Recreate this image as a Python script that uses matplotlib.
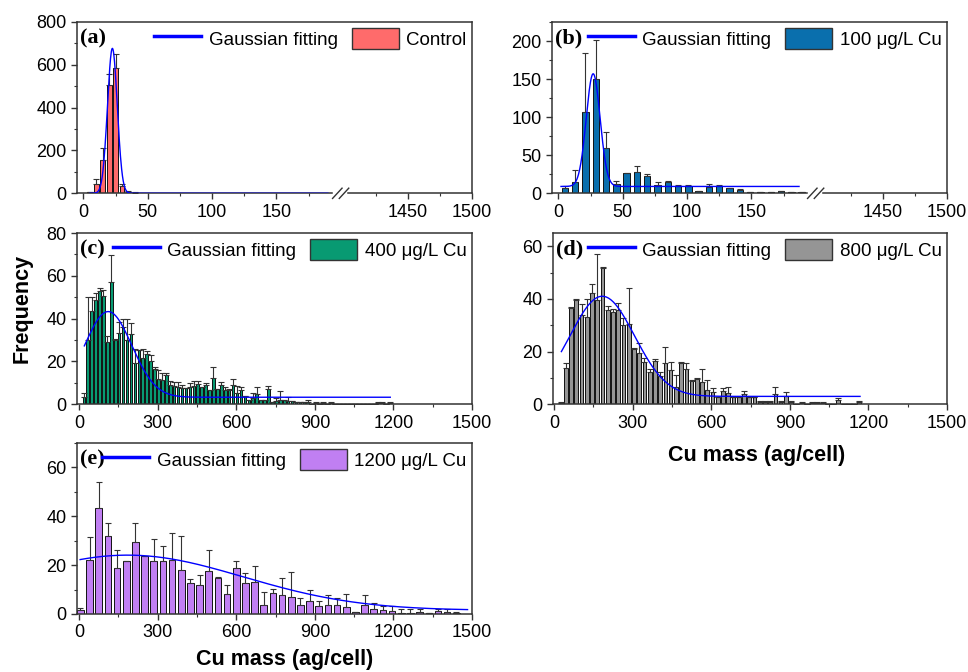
import numpy as np
import matplotlib
matplotlib.use("Agg")
import matplotlib.pyplot as plt
from matplotlib.patches import Patch
from matplotlib.lines import Line2D
from matplotlib.ticker import FixedLocator, MultipleLocator

plt.rcParams['font.family'] = ['Liberation Sans', 'DejaVu Sans']

# ---- values ----
# bar counts, upper error (SD) and Gaussian fit (y0, A, xc, w) per panel

# (a) Control: bins of 5 ag starting at 5
a_start, a_bin = 5, 5
a_counts = [4, 42, 156, 506, 584, 36, 8, 3]
a_err = [2, 23, 57, 50, 65, 8, 2, 1]
a_fit = (0, 677, 22.5, 3.8)
a_fit_range = (5, 190)

# (b) 100 ug/L: bins of 8 ag starting at 5
b_start, b_bin = 5, 8
b_counts = [7, 15, 107, 150, 59, 12.5, 27, 28.5, 23, 11, 15, 10, 10, 3.5,
            8.5, 10, 7, 4, 1.5, 1.5, 2, 3, 1.5, 1.5]
b_err = [3, 15, 77, 51, 21, 3, 0, 8, 2.5, 4, 1.3, 1, 1, 0, 3.5, 1, 0, 1,
         0, 0, 0, 0.5, 0, 0]
b_fit = (9, 148, 27, 5.4)
b_fit_range = (2, 187)

# (c) 400 ug/L: bins of 15 ag starting at 18
c_start, c_bin = 18, 15
c_counts = [3.5, 30, 43.5, 48.5, 53, 50.5, 29, 57, 30, 33.5,
            36, 30, 33, 19.5, 25.5, 21.5, 23.5, 20, 16.5, 12,
            11.5, 13.5, 9, 8.5, 8, 7.5, 7.5, 8, 8.5, 9.5,
            8, 9, 6.5, 12.5, 7, 9, 6.5, 6.5, 9, 5.5,
            6.5, 4, 2, 3, 5, 2, 2, 7, 1, 1.5,
            2, 2, 1.5, 1.5, 1, 1, 1, 1, 0, 0.5,
            0, 0.5, 0, 0.5, 0, 0, 0, 0, 0, 0,
            0, 0, 0, 0, 0, 0.5, 0.5, 0, 0.5]
c_err = [2, 20, 6.5, 3.5, 1.5, 3, 3, 12.5, 0.5, 5,
         4, 10, 5, 6.5, 0, 4.5, 1.5, 3, 1, 4,
         3, 1, 2, 2, 2.5, 1.5, 0, 2, 2.5, 1.5,
         0, 1, 0, 5, 0, 1.5, 1.5, 0.5, 3, 3,
         1.5, 0, 0, 2.5, 3, 0, 0, 1.5, 0, 1.5,
         4, 0, 2, 0, 0, 0, 0, 1, 0, 0.5,
         0, 0.5, 0, 0.5, 0, 0, 0, 0, 0, 0,
         0, 0, 0, 0, 0, 0.5, 0.5, 0, 0.5]
c_fit = (3.3, 40, 111, 90)
c_fit_range = (20, 1188)

# (d) 800 ug/L: bins of 20 ag starting at 25
d_start, d_bin = 25, 20
d_counts = [0.6, 13.6, 36.5, 39.5, 34, 33, 42.4, 39.5, 51.9, 35.9,
            34.9, 35.9, 30, 30.3, 20.8, 19.3, 16.2, 12.4, 16.4, 10.9,
            15.5, 12.9, 6.7, 15.8, 13.4, 9, 9.6, 8.6, 5.4, 4.8,
            2.9, 5.2, 4.2, 2.9, 2.9, 3.8, 2.9, 2.8, 0.8, 0.8,
            0.8, 4, 0.8, 3.3, 0.8, 0, 0.5, 0, 0.5, 0.5,
            0.5, 0, 0, 1.5, 0, 0, 0, 0.8]
d_err = [0.4, 1.9, 0.5, 0.5, 4.1, 6.9, 3.3, 17.5, 0.3, 1.5,
         1.1, 2.6, 2.6, 13.7, 0.4, 3.8, 1.2, 1, 0.8, 1.5,
         6.4, 3, 4.4, 0.4, 2.1, 0.2, 0.5, 4.8, 3.8, 1.5,
         0, 0.9, 2.5, 0, 0, 1.4, 0, 0, 0.3, 0.3,
         0.3, 2.7, 0.3, 1.2, 0.3, 0, 0.3, 0, 0.3, 0.3,
         0.3, 0, 0, 1, 0, 0, 0, 0.3]
d_fit = (3, 38, 184, 123)
d_fit_range = (28, 1168)

# (e) 1200 ug/L: bins of 35 ag starting at 5
e_start, e_bin = 5, 35
e_counts = [1.6, 22.2, 43.5, 31.8, 18.8, 21.7, 29.3, 23.6, 21.7, 21.9,
            22.2, 18.1, 12.6, 11.7, 17.7, 14.7, 8.2, 18.8, 12.6, 13.1,
            3.7, 8.5, 7.7, 7.1, 3.7, 5.5, 3.3, 3.6, 3.6, 3.0,
            0.9, 3.6, 1.9, 1.6, 1.4, 0.6, 0.6, 0.9, 0.6, 1.2,
            0.8, 0.6]
e_err = [0.7, 9.2, 10.5, 5.5, 7.2, 0, 8, 0, 8.8, 6.1,
         10.8, 13.9, 1.9, 4.3, 8.7, 0.3, 3.8, 2.7, 4.1, 6.5,
         5.5, 1.7, 7, 9.9, 2.7, 4.5, 2, 4.1, 2.8, 5.2,
         0, 4.1, 2.5, 1.8, 2, 1.4, 1.4, 1.1, 0, 0.8,
         1.2, 0.3]
e_fit = (1.5, 22.6, 185, 442)
e_fit_range = (4, 1483)

labels = ['Control', '100 \u03bcg/L Cu', '400 \u03bcg/L Cu',
          '800 \u03bcg/L Cu', '1200 \u03bcg/L Cu']
colors = ['#FF6B6B', '#0A6FAD', '#089A72', '#959595', '#C07FF2']

SPINE = '#333333'
FIT = '#0000FF'


def gauss(x, y0, A, xc, w):
    return y0 + A * np.exp(-(x - xc) ** 2 / (2 * w ** 2))


# broken x axis for (a) and (b): 0..200 | 1400..1500
def fwd(x):
    x = np.asarray(x, dtype=float)
    return np.where(x <= 200, x,
                    np.where(x >= 1400, x - 1198, 200 + (x - 200) * 2 / 1200))


def inv(y):
    y = np.asarray(y, dtype=float)
    return np.where(y <= 200, y,
                    np.where(y >= 202, y + 1198, 200 + (y - 200) * 600))


def panel(ax, start, width, counts, err, barw, color, label, fit, fit_range,
          tag, ylim, ymajor, yminor):
    x = start + width * np.arange(len(counts))
    ax.bar(x, counts, width=barw, color=color, edgecolor='#111111',
           linewidth=0.7, zorder=2)
    ax.errorbar(x, counts, yerr=[np.zeros(len(err)), err], fmt='none',
                ecolor='#333333', elinewidth=0.8, capsize=2, capthick=0.8,
                zorder=3)
    xx = np.linspace(fit_range[0], fit_range[1], 600)
    ax.plot(xx, gauss(xx, *fit), color=FIT, lw=1, zorder=4)

    ax.set_ylim(*ylim)
    ax.yaxis.set_major_locator(MultipleLocator(ymajor))
    ax.yaxis.set_minor_locator(MultipleLocator(yminor))
    for s in ax.spines.values():
        s.set_color(SPINE)
        s.set_linewidth(1.1)
    ax.tick_params(which='both', direction='out', colors=SPINE,
                   labelcolor='black', labelsize=13, top=False, right=False)
    ax.tick_params(which='major', length=4, width=1)
    ax.tick_params(which='minor', length=2.5, width=0.8)

    handles = [Line2D([], [], color=FIT, lw=2.5),
               Patch(facecolor=color, edgecolor=SPINE, linewidth=1)]
    ax.legend(handles, ['Gaussian fitting', label], loc='upper right',
              ncol=2, frameon=False, fontsize=13.5, handlelength=2.5,
              handleheight=1.4, handletextpad=0.4, columnspacing=0.75,
              borderaxespad=0.2, borderpad=0.1)
    ax.text(0.008, 0.965, tag, transform=ax.transAxes, ha='left', va='top',
            fontsize=16, fontweight='bold', family='Liberation Serif')


def broken_axis(ax):
    ax.set_xscale('function', functions=(fwd, inv))
    ax.set_xlim(-5, 1500)
    ax.xaxis.set_major_locator(FixedLocator([0, 50, 100, 150, 1450, 1500]))
    ax.xaxis.set_minor_locator(FixedLocator([25, 75, 125, 175, 1425, 1475]))
    ax.spines['bottom'].set_bounds(-5, 193)
    tr = ax.get_xaxis_transform()
    ax.plot([1404, 1500], [0, 0], transform=tr, color=SPINE, lw=1.1,
            clip_on=False, zorder=5)
    for xa in (0.659, 0.676):
        ax.plot([xa - 0.012, xa + 0.012], [-0.03, 0.03],
                transform=ax.transAxes, color=SPINE, lw=1, clip_on=False)


def full_axis(ax, xmin):
    ax.set_xlim(xmin, 1500)
    ax.xaxis.set_major_locator(MultipleLocator(300))
    ax.xaxis.set_minor_locator(MultipleLocator(150))


fig = plt.figure(figsize=(9.68, 6.72), dpi=100)
W, H = 968, 672


def add_axes(left, top, right, bottom):
    return fig.add_axes([left / W, 1 - bottom / H, (right - left) / W,
                         (bottom - top) / H])


ax_a = add_axes(77, 22, 472, 193.3)
ax_b = add_axes(552, 22, 947, 193.3)
ax_c = add_axes(77, 233, 472, 404.3)
ax_d = add_axes(553, 233, 947, 404.3)
ax_e = add_axes(77, 443, 472, 614)

panel(ax_a, a_start, a_bin, a_counts, a_err, 3.8, colors[0], labels[0],
      a_fit, a_fit_range, '(a)', (0, 800), 200, 100)
broken_axis(ax_a)

panel(ax_b, b_start, b_bin, b_counts, b_err, 5, colors[1], labels[1],
      b_fit, b_fit_range, '(b)', (0, 225), 50, 25)
broken_axis(ax_b)

panel(ax_c, c_start, c_bin, c_counts, c_err, 10, colors[2], labels[2],
      c_fit, c_fit_range, '(c)', (0, 80), 20, 10)
full_axis(ax_c, -8)

panel(ax_d, d_start, d_bin, d_counts, d_err, 14, colors[3], labels[3],
      d_fit, d_fit_range, '(d)', (0, 65), 20, 10)
full_axis(ax_d, -4)

panel(ax_e, e_start, e_bin, e_counts, e_err, 25, colors[4], labels[4],
      e_fit, e_fit_range, '(e)', (0, 70), 20, 10)
full_axis(ax_e, -8)

fig.text(22 / W, 1 - 308 / H, 'Frequency', rotation=90, ha='center',
         va='center', fontsize=15.5, fontweight='bold')
fig.text(757 / W, 1 - 455 / H, 'Cu mass (ag/cell)', ha='center',
         va='center', fontsize=15.5, fontweight='bold')
fig.text(285 / W, 1 - 660 / H, 'Cu mass (ag/cell)', ha='center',
         va='center', fontsize=15.5, fontweight='bold')

fig.savefig('out.png', dpi=100)
